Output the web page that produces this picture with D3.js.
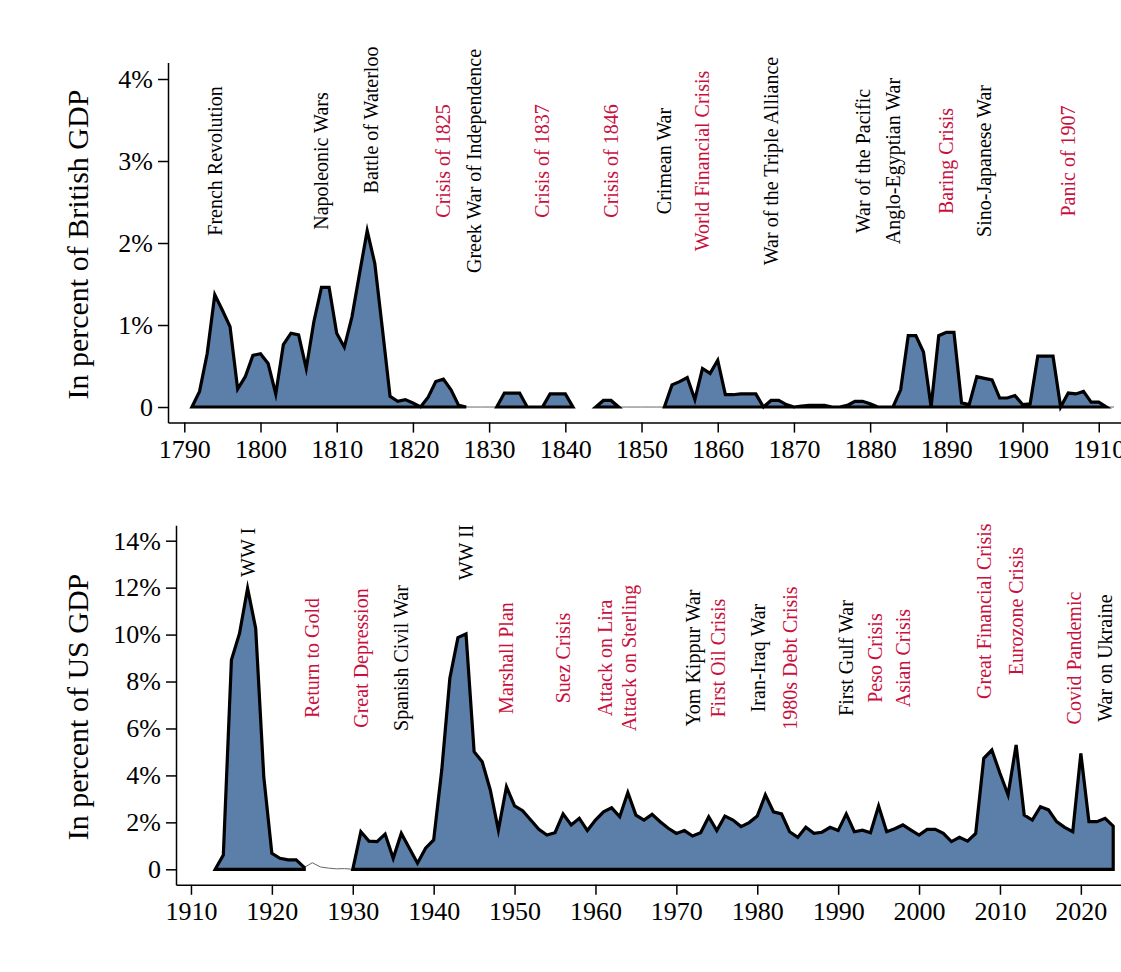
<!DOCTYPE html>
<html>
<head>
<meta charset="utf-8">
<script src="https://cdn.jsdelivr.net/npm/d3@7"></script>
<style>
  body { margin: 0; background: #fff; }
  text { font-family: "Liberation Serif", "Times New Roman", serif; }
</style>
</head>
<body>
<script>
// ---- Britain, 1791-1912: cost in percent of British GDP ----
const ukStartYear = 1791;
const ukValues = [
  0, 0.19, 0.65, 1.37, 1.18, 0.98, 0.22, 0.37, 0.63, 0.65,          // 1791-1800
  0.53, 0.16, 0.76, 0.90, 0.88, 0.47, 1.04, 1.46, 1.46, 0.90,       // 1801-1810
  0.73, 1.10, 1.63, 2.15, 1.75, 0.95, 0.13, 0.07, 0.09, 0.05,       // 1811-1820
  0, 0.12, 0.31, 0.34, 0.21, 0.02, 0, 0, 0, 0,                      // 1821-1830
  0, 0.17, 0.17, 0.17, 0, 0, 0, 0.16, 0.16, 0.16,                   // 1831-1840
  0, null, null, 0, 0.08, 0.08, 0, 0, 0, 0,                         // 1841-1850
  0, 0, 0, 0.27, 0.31, 0.36, 0.09, 0.47, 0.41, 0.57,                // 1851-1860
  0.15, 0.15, 0.16, 0.16, 0.16, 0, 0.08, 0.08, 0.03, 0,             // 1861-1870
  0.01, 0.02, 0.02, 0.02, 0, 0, 0.02, 0.07, 0.07, 0.04,             // 1871-1880
  0, 0, 0, 0.21, 0.87, 0.87, 0.67, 0, 0.87, 0.91,                   // 1881-1890
  0.91, 0.05, 0.03, 0.37, 0.35, 0.33, 0.11, 0.11, 0.14, 0.03,       // 1891-1900
  0.04, 0.62, 0.62, 0.62, 0, 0.17, 0.16, 0.19, 0.06, 0.06,          // 1901-1910
  0, 0                                                              // 1911-1912
];
// years shown only as a thin trace, outside the filled shapes
const ukTraceOnly = [1828, 1829, 1830, 1848, 1849, 1850, 1851, 1852, 1912];
const ukXTicks = [1790, 1800, 1810, 1820, 1830, 1840, 1850, 1860, 1870, 1880, 1890, 1900, 1910];
const ukYTicks = [0, 1, 2, 3, 4];
const ukYTickLabels = ["0", "1%", "2%", "3%", "4%"];

const ukEventNames = [
  "French Revolution", "Napoleonic Wars", "Battle of Waterloo", "Crisis of 1825",
  "Greek War of Independence", "Crisis of 1837", "Crisis of 1846", "Crimean War",
  "World Financial Crisis", "War of the Triple Alliance", "War of the Pacific",
  "Anglo-Egyptian War", "Baring Crisis", "Sino-Japanese War", "Panic of 1907"
];
const ukEventYears = [1794, 1808, 1814.5, 1824, 1828, 1837, 1846, 1853, 1858, 1867, 1879, 1883, 1890, 1895, 1906];
const ukEventLevels = [3, 3, 3.5, 3, 3, 3, 3, 3, 3, 3, 3, 3, 3, 3, 3];
const ukEventKinds = ["war", "war", "war", "crisis", "war", "crisis", "crisis", "war",
  "crisis", "war", "war", "war", "crisis", "war", "crisis"];

// ---- United States, 1913-2024: cost in percent of US GDP ----
const usStartYear = 1913;
const usValues = [
  0, 0.61, 8.92, 10.05, 11.97, 10.27, 3.95,                        // 1913-1919
  0.68, 0.47, 0.40, 0.40, 0.08, 0.28, 0.10, 0.05, 0.02, 0.03,       // 1920-1929
  0, 1.60, 1.20, 1.18, 1.50, 0.47, 1.53, 0.90, 0.26, 0.90,          // 1930-1939
  1.25, 4.23, 8.14, 9.87, 10.03, 5.01, 4.58, 3.38, 1.67, 3.52,      // 1940-1949
  2.70, 2.50, 2.10, 1.70, 1.46, 1.56, 2.36, 1.89, 2.17, 1.65,       // 1950-1959
  2.10, 2.45, 2.62, 2.24, 3.27, 2.31, 2.10, 2.34, 2.03, 1.75,       // 1960-1969
  1.53, 1.65, 1.42, 1.56, 2.24, 1.65, 2.27, 2.10, 1.82, 1.99,       // 1970-1979
  2.27, 3.17, 2.45, 2.36, 1.60, 1.36, 1.79, 1.53, 1.58, 1.79,       // 1980-1989
  1.65, 2.36, 1.60, 1.67, 1.56, 2.70, 1.60, 1.73, 1.89, 1.67,       // 1990-1999
  1.46, 1.70, 1.70, 1.53, 1.18, 1.36, 1.20, 1.53, 4.73, 5.08,       // 2000-2009
  4.09, 3.17, 5.30, 2.31, 2.10, 2.67, 2.53, 2.03, 1.79, 1.60,       // 2010-2019
  4.94, 2.03, 2.03, 2.17, 1.84                                      // 2020-2024
];
const usTraceOnly = [1925, 1926, 1927, 1928, 1929];
const usXTicks = [1910, 1920, 1930, 1940, 1950, 1960, 1970, 1980, 1990, 2000, 2010, 2020];
const usYTicks = [0, 2, 4, 6, 8, 10, 12, 14];
const usYTickLabels = ["0", "2%", "4%", "6%", "8%", "10%", "12%", "14%"];

const usEventNames = [
  "WW I", "Return to Gold", "Great Depression", "Spanish Civil War", "WW II",
  "Marshall Plan", "Suez Crisis", "Attack on Lira", "Attack on Sterling",
  "Yom Kippur War", "First Oil Crisis", "Iran-Iraq War", "1980s Debt Crisis",
  "First Gulf War", "Peso Crisis", "Asian Crisis", "Great Financial Crisis",
  "Eurozone Crisis", "Covid Pandemic", "War on Ukraine"
];
const usEventYears = [1917, 1925, 1931, 1936, 1944, 1949, 1956, 1961.2, 1964.2, 1972.1,
  1975.1, 1980.1, 1984, 1991, 1994.6, 1998, 2008, 2012, 2019.1, 2023];
const usEventLevels = [13.5, 9, 9, 9, 13.5, 9, 9, 9, 9, 9, 9, 9, 9, 9, 9, 9, 11, 11, 9, 9];
const usEventKinds = ["war", "crisis", "crisis", "war", "war", "crisis", "crisis", "crisis",
  "crisis", "war", "crisis", "war", "crisis", "war", "crisis", "crisis", "crisis",
  "crisis", "crisis", "war"];

// ---- styling ----
const FILL = "#5c7fa9";
const KIND_COLOR = { war: "#000000", crisis: "#c8103e" };
const W = 1121, H = 972;

const svg = d3.select("body").append("svg")
  .attr("width", W).attr("height", H)
  .style("display", "block");
svg.append("rect").attr("width", W).attr("height", H).attr("fill", "#fff");

function drawPanel(p) {
  const g = svg.append("g");
  const x = d3.scaleLinear().domain(p.xDomain).range(p.xRange);
  const y = d3.scaleLinear().domain(p.yDomain).range(p.yRange);
  const years = d3.range(p.values.length).map(i => p.startYear + i);
  const pts = years.map((yr, i) => ({ yr, v: p.values[i] }));

  // thin trace of the whole series
  const trace = d3.line()
    .defined(d => d.v !== null)
    .x(d => x(d.yr)).y(d => y(d.v));
  g.append("path")
    .attr("d", trace(pts))
    .attr("fill", "none")
    .attr("stroke", "#666")
    .attr("stroke-width", 1);

  // filled shapes with heavy outline
  const area = d3.area()
    .defined(d => d.v !== null && !p.traceOnly.includes(d.yr))
    .x(d => x(d.yr)).y0(y(0)).y1(d => y(d.v));
  g.append("path")
    .attr("d", area(pts))
    .attr("fill", FILL)
    .attr("stroke", "#000")
    .attr("stroke-width", 3.2)
    .attr("stroke-linejoin", "miter")
    .attr("stroke-miterlimit", 6);

  // axes
  const xAxis = d3.axisBottom(x)
    .tickValues(p.xTicks).tickFormat(d3.format("d"))
    .tickSize(10).tickSizeOuter(0).tickPadding(6.5);
  const yAxis = d3.axisLeft(y)
    .tickValues(p.yTicks).tickFormat((d, i) => p.yTickLabels[i])
    .tickSize(10).tickSizeOuter(0).tickPadding(5);

  const gx = g.append("g").attr("transform", `translate(0,${p.yRange[0]})`).call(xAxis);
  const gy = g.append("g").attr("transform", `translate(${p.xRange[0]},0)`).call(yAxis);
  [gx, gy].forEach(a => {
    a.selectAll("path, line").attr("stroke", "#000").attr("stroke-width", 1.5);
    a.selectAll("text").attr("font-size", 26).attr("fill", "#000")
      .style("font-family", '"Liberation Serif", "Times New Roman", serif');
  });

  // axis title
  g.append("text")
    .attr("transform", `translate(88,${(p.yRange[0] + p.yRange[1]) / 2 + 2}) rotate(-90)`)
    .attr("text-anchor", "middle")
    .attr("font-size", 30)
    .attr("fill", "#000")
    .text(p.title);

  // event labels
  p.eventNames.forEach((name, i) => {
    g.append("text")
      .attr("transform", `translate(${x(p.eventYears[i])},${y(p.eventLevels[i])}) rotate(-90)`)
      .attr("text-anchor", "middle")
      .attr("dy", "0.35em")
      .attr("font-size", 20)
      .attr("fill", KIND_COLOR[p.eventKinds[i]])
      .text(name);
  });
}

drawPanel({
  startYear: ukStartYear, values: ukValues, traceOnly: ukTraceOnly,
  xDomain: [1787.86, 1913], xRange: [168, 1121.6],
  yDomain: [-0.19, 4.2], yRange: [422.6, 62.6],
  xTicks: ukXTicks, yTicks: ukYTicks, yTickLabels: ukYTickLabels,
  title: "In percent of British GDP",
  eventNames: ukEventNames, eventYears: ukEventYears,
  eventLevels: ukEventLevels, eventKinds: ukEventKinds
});

drawPanel({
  startYear: usStartYear, values: usValues, traceOnly: usTraceOnly,
  xDomain: [1908.15, 2025], xRange: [176, 1121.3],
  yDomain: [-0.66, 14.66], yRange: [884.8, 525.2],
  xTicks: usXTicks, yTicks: usYTicks, yTickLabels: usYTickLabels,
  title: "In percent of US GDP",
  eventNames: usEventNames, eventYears: usEventYears,
  eventLevels: usEventLevels, eventKinds: usEventKinds
});
</script>
</body>
</html>
